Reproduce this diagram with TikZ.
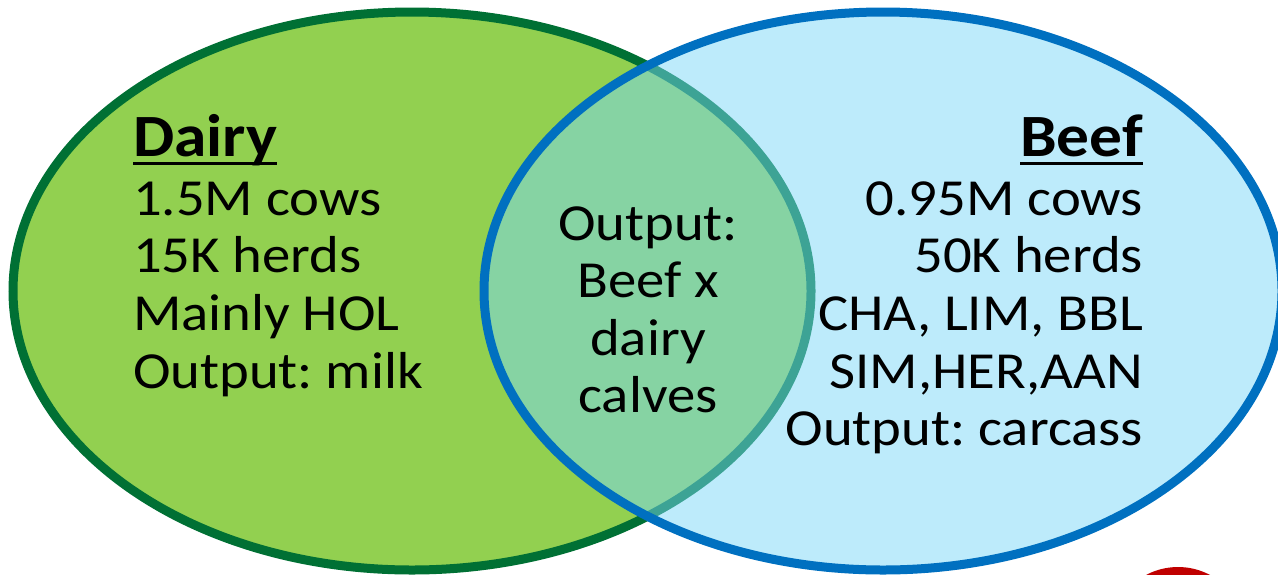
\documentclass[tikz,border=0pt]{standalone}
\usepackage{fontspec}
\setmainfont{Carlito}[FakeStretch=1.09]
\frenchspacing
\definecolor{dairyfill}{RGB}{146,208,80}
\definecolor{dairyline}{RGB}{0,112,52}
\definecolor{beeffill}{RGB}{123,215,247}
\definecolor{beefline}{RGB}{0,112,192}
\definecolor{logored}{RGB}{192,0,0}
\tikzset{
  txt/.style={inner sep=0pt, outer sep=0pt, font=\fontsize{26pt}{28.75pt}\selectfont},
  head/.style={inner sep=0pt, outer sep=0pt, font=\fontsize{30pt}{32pt}\selectfont\bfseries},
  setline/.style={line width=4.5pt},
}
\begin{document}
\begin{tikzpicture}[x=0.5pt,y=-0.5pt]
\useasboundingbox (0,0) rectangle (1278,574);
\begin{scope}
\clip (0,0) rectangle (1278,574);
\draw[setline, draw=dairyline, fill=dairyfill] (412,291) ellipse [x radius=399, y radius=279];
\draw[setline, draw=beefline, fill=beeffill, fill opacity=0.5] (883,291) ellipse [x radius=399, y radius=279];
\fill[logored] (1178,635) circle [radius=68];
\end{scope}
% Dairy
\node[head, anchor=base west] (dh) at (133,156) {Dairy};
\draw[line width=1.5pt] ([yshift=-3.5pt]dh.base west) -- ([yshift=-3.5pt]dh.base east);
\node[txt, anchor=base west] (d1) at (133,215) {1.5M cows};
\node[txt, anchor=base west] (d2) at (133,272) {15K herds};
\node[txt, anchor=base west] (d3) at (133,330) {Mainly HOL};
\node[txt, anchor=base west] (d4) at (133,388) {Output: milk};
% Beef
\node[head, anchor=base east] (bh) at (1143,156) {Beef};
\draw[line width=1.5pt] ([yshift=-3.5pt]bh.base west) -- ([yshift=-3.5pt]bh.base east);
\node[txt, anchor=base east] (b1) at (1143,215) {0.95M cows};
\node[txt, anchor=base east] (b2) at (1143,272) {50K herds};
\node[txt, anchor=base east] (b3) at (1143,330) {CHA, LIM, BBL};
\node[txt, anchor=base east] (b4) at (1143,388) {SIM,HER,AAN};
\node[txt, anchor=base east] (b5) at (1143,445) {Output: carcass};
% overlap
\node[txt, anchor=base] (c1) at (648,240) {Output:};
\node[txt, anchor=base] (c2) at (648,297) {Beef x};
\node[txt, anchor=base] (c3) at (648,355) {dairy};
\node[txt, anchor=base] (c4) at (648,412) {calves};
\end{tikzpicture}
\end{document}
